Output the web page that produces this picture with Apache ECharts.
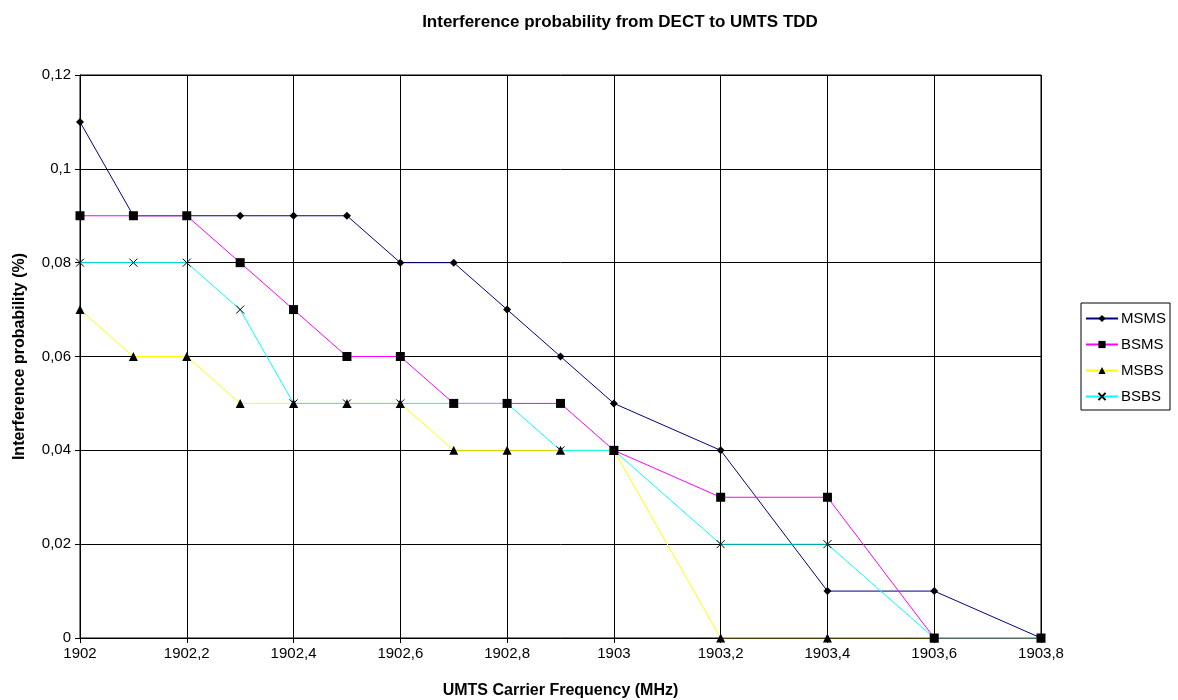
<!DOCTYPE html>
<html><head><meta charset="utf-8">
<script src="https://cdn.jsdelivr.net/npm/echarts@6/dist/echarts.min.js"></script>
<style>html,body{margin:0;padding:0;background:#fff}#c{width:1178px;height:700px}</style>
</head><body><div id="c"></div>
<script>
const freqs = [1902, 1902.1, 1902.2, 1902.3, 1902.4, 1902.5, 1902.6, 1902.7, 1902.8, 1902.9, 1903, 1903.2, 1903.4, 1903.6, 1903.8];
const msms = [0.11, 0.09, 0.09, 0.09, 0.09, 0.09, 0.08, 0.08, 0.07, 0.06, 0.05, 0.04, 0.01, 0.01, 0];
const bsms = [0.09, 0.09, 0.09, 0.08, 0.07, 0.06, 0.06, 0.05, 0.05, 0.05, 0.04, 0.03, 0.03, 0, 0];
const msbs = [0.07, 0.06, 0.06, 0.05, 0.05, 0.05, 0.05, 0.04, 0.04, 0.04, 0.04, 0, 0, 0, 0];
const bsbs = [0.08, 0.08, 0.08, 0.07, 0.05, 0.05, 0.05, 0.05, 0.05, 0.04, 0.04, 0.02, 0.02, 0, 0];
const seriesNames = ['MSMS', 'BSMS', 'MSBS', 'BSBS'];

const pairs = v => freqs.map((f, i) => [f, v[i]]);
const font = 'Liberation Sans, Arial, sans-serif';
const chart = echarts.init(document.getElementById('c'));
function mk(name, vals, color, symbol, size, extra) {
  return Object.assign({
    name: name, type: 'line', data: pairs(vals), symbol: symbol, symbolSize: size,
    lineStyle: {color: color, width: 1}, itemStyle: {color: '#000'}, color: color,
    animation: false, z: 3
  }, extra || {});
}
chart.setOption({
  animation: false,
  title: {text: 'Interference probability from DECT to UMTS TDD', left: 615, textAlign: 'center', top: 9,
    textStyle: {fontFamily: font, fontSize: 17, fontWeight: 'bold', color: '#000'}},
  grid: {left: 80, right: 137, top: 75, bottom: 62, show: true, borderColor: '#000', borderWidth: 1,
    outerBoundsMode: 'none', containLabel: false},
  legend: {orient: 'vertical', left: 1081, top: 303, itemGap: 11, itemWidth: 32, itemHeight: 9,
    padding: [8, 4, 6, 4], borderColor: '#000', borderWidth: 1,
    textStyle: {fontFamily: font, fontSize: 15, color: '#000', padding: [0, 0, 0, -2]},
    data: seriesNames},
  xAxis: {type: 'value', min: 1902, max: 1903.8, interval: 0.2,
    name: 'UMTS Carrier Frequency (MHz)', nameLocation: 'middle', nameGap: 45,
    nameTextStyle: {fontFamily: font, fontSize: 16, fontWeight: 'bold', color: '#000'},
    axisLine: {lineStyle: {color: '#000'}}, axisTick: {lineStyle: {color: '#000'}, length: 5},
    axisLabel: {fontFamily: font, fontSize: 15, color: '#000', margin: 8,
      formatter: v => String(Math.round(v * 10) / 10).replace('.', ',')},
    splitLine: {show: true, lineStyle: {color: '#000', width: 1}}},
  yAxis: {type: 'value', min: 0, max: 0.12, interval: 0.02,
    name: 'Interference probability (%)', nameLocation: 'middle', nameGap: 52,
    nameTextStyle: {fontFamily: font, fontSize: 16, fontWeight: 'bold', color: '#000'},
    axisLine: {show: true, lineStyle: {color: '#000'}}, axisTick: {show: true, lineStyle: {color: '#000'}, length: 5},
    axisLabel: {fontFamily: font, fontSize: 15, color: '#000', margin: 9,
      formatter: v => String(Math.round(v * 100) / 100).replace('.', ',')},
    splitLine: {show: true, lineStyle: {color: '#000', width: 1}}},
  series: [
    mk('MSMS', msms, '#000080', 'diamond', 8),
    mk('BSMS', bsms, '#ff00ff', 'rect', 9),
    mk('MSBS', msbs, '#ffff00', 'triangle', 9),
    mk('BSBS', bsbs, '#00ffff', 'path://M0,0L10,10M10,0L0,10', 8,
      {itemStyle: {color: 'none', borderColor: '#000', borderWidth: 1}})
  ]
});
</script></body></html>
